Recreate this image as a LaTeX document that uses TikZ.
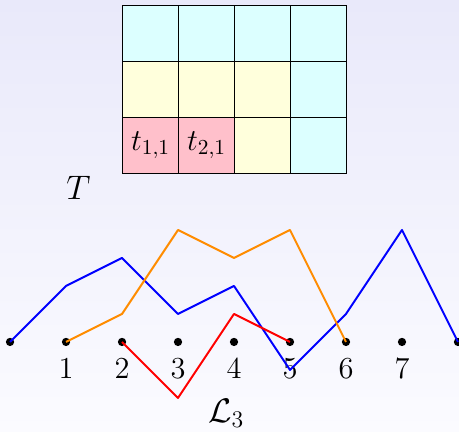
\RequirePackage{fix-cm}
\documentclass[tikz,border=0pt]{standalone}
\usepackage{amsmath}
\usepackage{amssymb}
\usepackage{xcolor}
\usetikzlibrary{positioning,calc}
\definecolor{bgtop}{RGB}{233,233,250}
\definecolor{bgbot}{RGB}{251,251,255}
\definecolor{cellc}{RGB}{220,255,255}
\definecolor{celly}{RGB}{255,255,220}
\definecolor{cellp}{RGB}{255,192,203}
\definecolor{walkorange}{RGB}{255,140,0}

\begin{document}
\begin{tikzpicture}[
  cell/.style={draw,line width=0.6pt,minimum size=1cm,inner sep=0pt,anchor=south west,fill=#1,font=\fontsize{15.5}{18}\selectfont},
  cell/.default=white,
  lab/.style={font=\fontsize{15.5}{18}\selectfont},
  biglab/.style={font=\fontsize{17.3}{20}\selectfont},
  walk/.style={line width=1pt,line join=round,draw=#1},
  dot/.style={circle,fill=black,inner sep=0pt,minimum size=4.2pt}]
  \shade[top color=bgtop,bottom color=bgbot] (-0.179,-1.607) rectangle (8.018,6.107);
  \useasboundingbox (-0.179,-1.607) rectangle (8.018,6.107);
  % tableau
  \node[cell=cellc] (c15) at (2,5) {}; \node[cell=cellc] (c25) at (3,5) {};
  \node[cell=cellc] (c35) at (4,5) {}; \node[cell=cellc] (c45) at (5,5) {};
  \node[cell=celly] (c14) at (2,4) {}; \node[cell=celly] (c24) at (3,4) {};
  \node[cell=celly] (c34) at (4,4) {}; \node[cell=cellc] (c44) at (5,4) {};
  \node[cell=cellp] (t11) at (2,3) {$t_{1,1}$}; \node[cell=cellp] (t21) at (3,3) {$t_{2,1}$};
  \node[cell=celly] (c33) at (4,3) {}; \node[cell=cellc] (c43) at (5,3) {};
  \node[biglab] (tab) at (1.22,2.75) {$T$};
  % points
  \foreach \i in {0,...,8} {
    \node[dot] (p\i) at (\i,0) {};
  }
  \foreach \i in {1,...,7} {
    \node[lab] (n\i) at (\i,-0.47) {$\i$};
  }
  \node[biglab] (ell) at (3.86,-1.27) {$\mathcal{L}_3$};
  % paths
  \draw[walk=blue] (p0.center) -- (1,1) -- (2,1.5) -- (3,0.5) -- (4,1) -- (5,-0.5) -- (6,0.5) -- (7,2) -- (p8.center);
  \draw[walk=walkorange] (p1.center) -- (2,0.5) -- (3,2) -- (4,1.5) -- (5,2) -- (p6.center);
  \draw[walk=red] (p2.center) -- (3,-1) -- (4,0.5) -- (p5.center);
\end{tikzpicture}
\end{document}
